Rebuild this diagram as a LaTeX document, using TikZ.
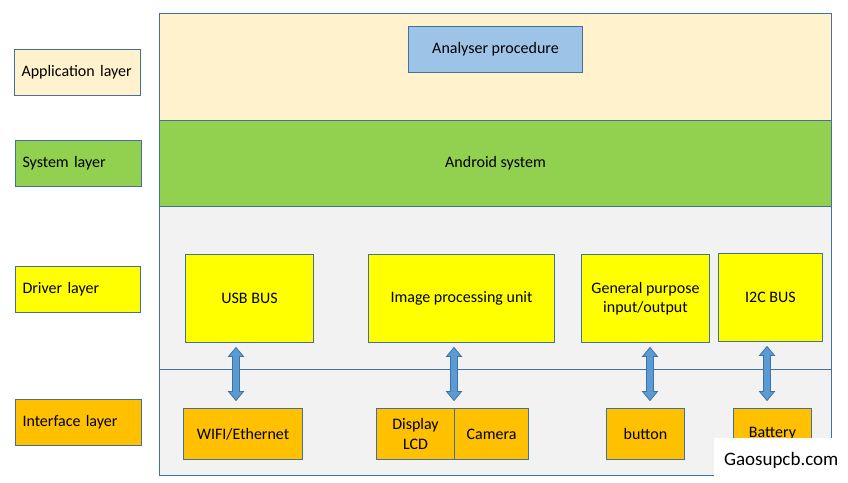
\documentclass[tikz,border=0pt]{standalone}
\usepackage{fontspec}
\setmainfont{Carlito}
\usetikzlibrary{calc}
\definecolor{bord}{HTML}{41719C}
\definecolor{beige}{HTML}{FFF2CC}
\definecolor{lgreen}{HTML}{92D050}
\definecolor{lgrey}{HTML}{F2F2F2}
\definecolor{lblue}{HTML}{9DC3E6}
\definecolor{dyellow}{HTML}{FFFF00}
\definecolor{dorange}{HTML}{FFC000}
\definecolor{arrblue}{HTML}{5B9BD5}
\newcommand\dblarr[3]{%
  \path (#1,0) coordinate (ax);
  \draw[blockarr] let \p1=($(ax |- #2.south)+(0,4.5)$), \p2=($(ax |- #3.north)+(0,-7.5)$) in
    (\x1,\y1) -- (\x1+7.5pt,\y1-9pt) -- (\x1+3.5pt,\y1-9pt) -- (\x1+3.5pt,\y2+9pt) -- (\x1+7.5pt,\y2+9pt)
    -- (\x2,\y2) -- (\x1-7.5pt,\y2+9pt) -- (\x1-3.5pt,\y2+9pt) -- (\x1-3.5pt,\y1-9pt) -- (\x1-7.5pt,\y1-9pt) -- cycle;
}
\begin{document}
\begin{tikzpicture}[x=1pt,y=-1pt,
  font=\fontsize{16}{19.5}\selectfont,
  box/.style={draw=bord, line width=1pt, inner sep=0pt, anchor=north west, align=center},
  lbl/.style={box, align=left, text width=#1-14, inner xsep=7pt},
  blockarr/.style={draw=bord, line width=0.8pt, fill=arrblue, line join=miter}
]
\useasboundingbox (0,0) rectangle (848,482);
% bands
\node[box, fill=lgrey, minimum width=672, minimum height=163] (drvband) at (159,206) {};
\node[box, fill=lgrey, minimum width=672, minimum height=106] (ifband) at (159,369) {};
\node[box, fill=beige, minimum width=672, minimum height=107] (appband) at (159,13) {};
\node[box, fill=lgreen, minimum width=672, minimum height=86] (sysband) at (159,120) {Android system};
\node[box, fill=lblue, minimum width=174, minimum height=46] (analyser) at (408,26) {Analyser procedure};
% left labels
\node[lbl=126, fill=beige, minimum height=46] (lapp) at (14,49) {Application layer};
\node[lbl=126, fill=lgreen, minimum height=46] (lsys) at (15,140) {System layer};
\node[lbl=125, fill=dyellow, minimum height=46] (ldrv) at (15,266) {Driver layer};
\node[lbl=126, fill=dorange, minimum height=46] (lif) at (15,399) {Interface layer};
% driver boxes
\node[box, fill=dyellow, minimum width=128, minimum height=88] (usb) at (185,254) {USB BUS};
\node[box, fill=dyellow, minimum width=186, minimum height=88] (img) at (368,254) {Image processing unit};
\node[box, fill=dyellow, minimum width=128, minimum height=88] (gpio) at (581,254) {General purpose\\input/output};
\node[box, fill=dyellow, minimum width=104, minimum height=88] (i2c) at (718,253) {I2C BUS};
% interface boxes
\node[box, fill=dorange, minimum width=119, minimum height=51] (wifi) at (183,408) {WIFI/Ethernet};
\node[box, fill=dorange, minimum width=78, minimum height=51] (lcd) at (376,408) {Display\\LCD};
\node[box, fill=dorange, minimum width=74, minimum height=51] (cam) at (454,408) {Camera};
\node[box, fill=dorange, minimum width=78, minimum height=51] (button) at (606,408) {button};
\node[box, fill=dorange, minimum width=78, minimum height=51] (battery) at (733,408) {Battery};
% arrows
\dblarr{236}{usb}{wifi}
\dblarr{454}{img}{lcd}
\dblarr{650}{gpio}{button}
\dblarr{767}{i2c}{battery}
% watermark
\node[fill=white, inner sep=0pt, anchor=north west, minimum width=134, minimum height=44,
  font=\fontsize{19}{21}\selectfont] (wm) at (714,438) {Gaosupcb.com};
\end{tikzpicture}
\end{document}
